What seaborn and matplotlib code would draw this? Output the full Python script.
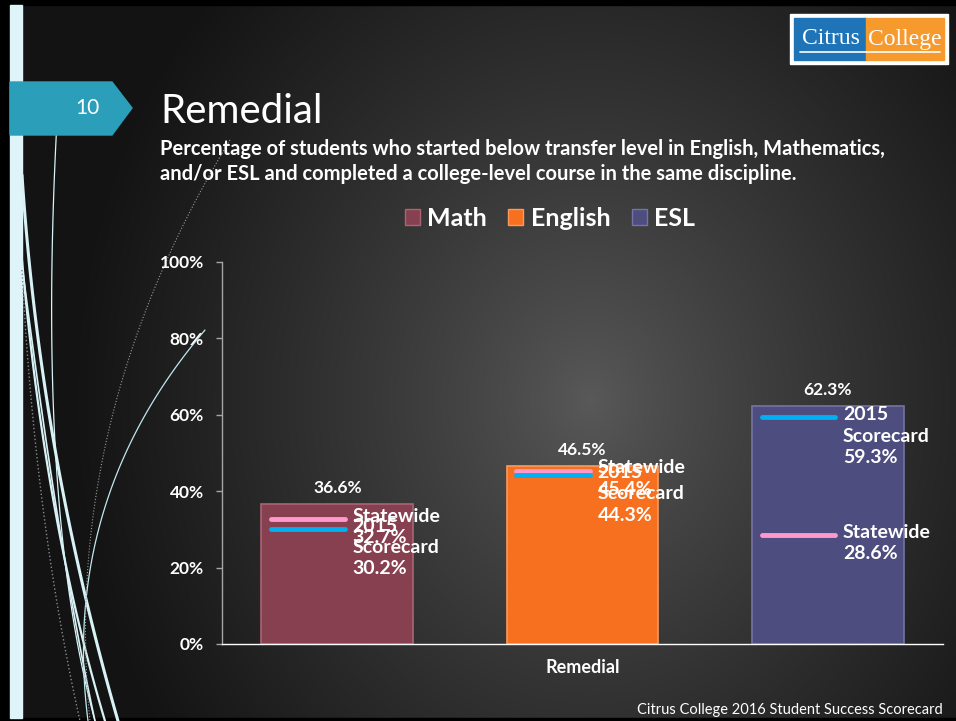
import numpy as np
import pandas as pd
import matplotlib.pyplot as plt
import seaborn as sns
from matplotlib.patches import Patch, Polygon, Rectangle

# ---- data ----
series = ["Math", "English", "ESL"]
college_rate = [36.6, 46.5, 62.3]
statewide = [32.7, 45.4, 28.6]
scorecard_2015 = [30.2, 44.3, 59.3]
group = "Remedial"
y_ticks = [0, 20, 40, 60, 80, 100]

bar_colors = ["#87404f", "#f7701f", "#4e4d80"]
edge_colors = ["#a86575", "#fb9a5c", "#7473a3"]
pink = "#ff99cc"
blue = "#00b0f0"

W, H = 956, 721

sns.set_theme(style="dark")
plt.rcParams['font.family'] = ['Lato', 'DejaVu Sans']
plt.rcParams['text.color'] = 'white'

fig = plt.figure(figsize=(W / 100, H / 100), dpi=100)

# ---- slide background ----
bg = fig.add_axes([0, 0, 1, 1], zorder=-10)
bg.set_xlim(0, W)
bg.set_ylim(H, 0)
bg.axis('off')
yy, xx = np.mgrid[0:H, 0:W]
d = np.sqrt(((xx - 590) / 520.0) ** 2 + ((yy - 400) / 600.0) ** 2)
t = np.clip(d, 0, 1) ** 0.85
grey = 0.35 * (1 - t) + 0.075 * t
bg.imshow(np.dstack([grey, grey, grey]), extent=(0, W, H, 0), aspect='auto', zorder=0)

# black frame + light stripe
bg.add_patch(Rectangle((0, 0), 9, H, color='black', zorder=1))
bg.add_patch(Rectangle((0, 0), W, 5, color='black', zorder=1))
bg.add_patch(Rectangle((0, H - 3), W, 3, color='black', zorder=1))
bg.add_patch(Rectangle((10, 5), 12, H - 8, color='#dff4f8', zorder=1))


# decorative curves on the left
def curve(p0, p1, p2, **kw):
    s = np.linspace(0, 1, 80)
    x = (1 - s) ** 2 * p0[0] + 2 * (1 - s) * s * p1[0] + s ** 2 * p2[0]
    y = (1 - s) ** 2 * p0[1] + 2 * (1 - s) * s * p1[1] + s ** 2 * p2[1]
    bg.plot(x, y, **kw)


curve((22, 175), (40, 450), (118, 721), color='#d8f2f6', lw=2.2, zorder=2)
curve((22, 260), (45, 520), (105, 721), color='#d8f2f6', lw=1.6, zorder=2)
curve((22, 265), (60, 560), (95, 721), color='#d8f2f6', lw=1.2, zorder=2)
curve((58, 103), (35, 500), (95, 721), color='#d8f2f6', lw=0.9, zorder=2)
curve((205, 330), (60, 500), (88, 721), color='#bfe8ef', lw=0.9, zorder=2)
curve((230, 140), (60, 420), (90, 721), color='#9a9a9a', lw=0.8, ls=':', zorder=2)
curve((22, 270), (35, 520), (80, 721), color='#8a8a8a', lw=1.0, ls=':', zorder=2)

# page number badge
bg.add_patch(Polygon([(10, 82), (112, 82), (132, 108), (112, 135), (10, 135)],
                     closed=True, color='#2b9fba', zorder=3))
bg.text(87, 108, "10", color='white', fontsize=15, ha='center', va='center', zorder=4)

# logo
bg.add_patch(Rectangle((790, 14), 158, 50, color='white', zorder=3))
bg.add_patch(Rectangle((794, 18), 72, 42, color='#1f73b7', zorder=4))
bg.add_patch(Rectangle((866, 18), 78, 42, color='#f79a2e', zorder=4))
bg.text(831, 39, "Citrus", family='Liberation Serif', fontsize=17, color='white',
        ha='center', va='center', zorder=5)
bg.text(905, 39, "College", family='Liberation Serif', fontsize=17, color='white',
        ha='center', va='center', zorder=5)
bg.plot([800, 940], [52, 52], color='white', lw=1.2, zorder=5)

# ---- titles ----
fig.text(160 / W, 1 - 123 / H, "Remedial", fontsize=29, color='white', va='baseline')
fig.text(160 / W, 1 - 155 / H,
         "Percentage of students who started below transfer level in English, Mathematics,",
         fontsize=14.5, fontweight='bold', color='white', va='baseline')
fig.text(160 / W, 1 - 180 / H,
         "and/or ESL and completed a college-level course in the same discipline.",
         fontsize=14.5, fontweight='bold', color='white', va='baseline')
fig.text(943 / W, 1 - 714 / H, "Citrus College 2016 Student Success Scorecard",
         fontsize=10.5, color='white', ha='right', va='baseline')

# ---- chart ----
ax = fig.add_axes([222 / W, 1 - 644 / H, (943 - 222) / W, (644 - 262) / H])
ax.patch.set_alpha(0)

df = pd.DataFrame({"group": [group] * len(series), "series": series, "rate": college_rate})
sns.barplot(data=df, x="group", y="rate", hue="series", hue_order=series,
            palette=bar_colors, saturation=1, width=1.02, gap=0.38,
            legend=False, ax=ax)

ax.set_xlim(-0.5, 0.5)
ax.set_ylim(0, 100)
ax.set_yticks(y_ticks)
ax.set_yticklabels([f"{v}%" for v in y_ticks])
ax.set_xlabel("")
ax.set_ylabel("")
ax.grid(False)

for sp in ["top", "right"]:
    ax.spines[sp].set_visible(False)
ax.spines["left"].set_color('#a6a6a6')
ax.spines["bottom"].set_color('white')
ax.spines["left"].set_linewidth(1)
ax.spines["bottom"].set_linewidth(1)
ax.tick_params(axis='y', direction='out', length=4, width=1, color='#a6a6a6',
               colors='white', pad=9, labelsize=12.5, left=True)
ax.tick_params(axis='x', length=0, pad=11, colors='white', labelsize=13)
for lab in ax.get_yticklabels() + ax.get_xticklabels():
    lab.set_fontweight('bold')

# bar edges and value labels
for i, cont in enumerate(ax.containers):
    for p in cont:
        p.set_edgecolor(edge_colors[i])
        p.set_linewidth(1.2)
    ax.bar_label(cont, labels=[f"{college_rate[i]}%"], padding=6, color='white',
                 fontsize=12.5, fontweight='bold')

# statewide / 2015 scorecard markers
for i, cont in enumerate(ax.containers):
    p = cont[0]
    x0 = p.get_x() + 0.065 * p.get_width()
    x1 = p.get_x() + 0.55 * p.get_width()
    tx = p.get_x() + 0.6 * p.get_width()
    ax.plot([x0, x1], [statewide[i], statewide[i]], color=pink, lw=3.5,
            solid_capstyle='round', zorder=5)
    ax.plot([x0, x1], [scorecard_2015[i], scorecard_2015[i]], color=blue, lw=3.5,
            solid_capstyle='round', zorder=5)
    ax.annotate(f"Statewide\n{statewide[i]}%", xy=(tx, statewide[i]), xytext=(0, 8),
                textcoords='offset points', ha='left', va='top', color='white',
                fontsize=14, fontweight='bold', linespacing=1.32, zorder=6,
                annotation_clip=False)
    ax.annotate(f"2015\nScorecard\n{scorecard_2015[i]}%", xy=(tx, scorecard_2015[i]),
                xytext=(0, 8), textcoords='offset points', ha='left', va='top',
                color='white', fontsize=14, fontweight='bold', linespacing=1.32,
                zorder=6, annotation_clip=False)

# legend
handles = [Patch(facecolor=c, edgecolor=e, lw=1) for c, e in zip(bar_colors, edge_colors)]
leg = fig.legend(handles, series, loc='center', bbox_to_anchor=(550 / W, 1 - 218 / H),
                 ncol=3, frameon=False, handlelength=0.6, handleheight=0.6,
                 handletextpad=0.3, columnspacing=0.85,
                 prop={'size': 18, 'weight': 'bold', 'family': ['Lato', 'DejaVu Sans']})
for txt in leg.get_texts():
    txt.set_color('white')

fig.savefig("out.png", dpi=100)
